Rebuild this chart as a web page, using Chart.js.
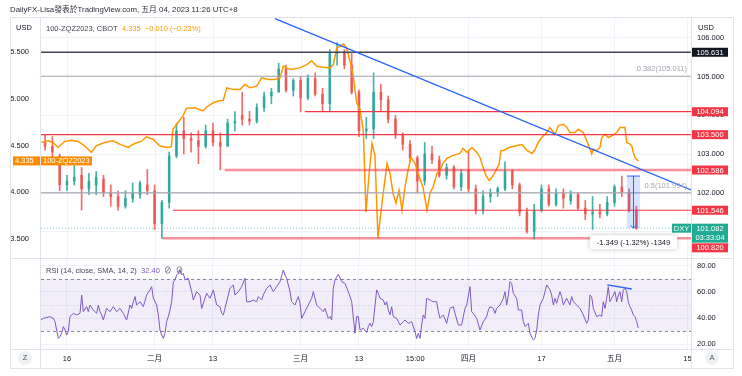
<!DOCTYPE html>
<html><head><meta charset="utf-8">
<script src="https://cdn.jsdelivr.net/npm/chart.js@4.4.0/dist/chart.umd.min.js"></script>
<style>
html,body{margin:0;padding:0;background:#fff;width:742px;height:376px;overflow:hidden;font-family:"Liberation Sans","Noto Sans CJK TC",sans-serif;}
canvas{position:absolute;left:0;}
#main{top:0;}
#rsi{top:259px;}
.t{position:absolute;white-space:nowrap;font-size:7.5px;line-height:9px;color:#131722;z-index:5;}
.ln{position:absolute;background:#e0e3eb;z-index:4;}
.circ{position:absolute;width:14px;height:14px;border-radius:50%;background:#eef0f4;color:#50535e;font-size:7.5px;line-height:14px;text-align:center;z-index:5;}
</style></head><body>
<canvas id="main" width="742" height="259"></canvas>
<canvas id="rsi" width="742" height="117"></canvas>

<div class="ln" style="left:10px;top:17px;width:724px;height:1px"></div>
<div class="ln" style="left:10px;top:17px;width:1px;height:352px"></div>
<div class="ln" style="left:733px;top:17px;width:1px;height:352px"></div>
<div class="ln" style="left:40px;top:17px;width:1px;height:352px"></div>
<div class="ln" style="left:691px;top:17px;width:1px;height:352px"></div>
<div class="ln" style="left:10px;top:258px;width:724px;height:1px"></div>
<div class="ln" style="left:10px;top:349px;width:724px;height:1px"></div>
<div class="ln" style="left:10px;top:368px;width:724px;height:1px"></div>

<div class="t" style="left:10px;top:5px;font-size:7.8px;color:#2a2e39">DailyFX-Lisa發表於TradingView.com, 五月 04, 2023 11:26 UTC+8</div>
<div class="t" style="left:16px;top:23px">USD</div>
<div class="t" style="left:698px;top:23px">USD</div>
<div class="t" style="left:46px;top:24px;color:#434651">100-ZQZ2023, CBOT&nbsp;&nbsp;<span style="color:#ff9800">4.335&nbsp;&nbsp;−0.010 (−0.23%)</span></div>
<div class="t" style="left:46px;top:266px;color:#434651">RSI (14, close, SMA, 14, 2)&nbsp;&nbsp;<span style="color:#7e57c2">32.40</span>&nbsp;&nbsp;⊘&nbsp;&nbsp;⊘</div>
<div class="circ" style="left:18px;top:351px">Z</div>
<div class="circ" style="left:705px;top:351px">A</div>

<script>
// ---------- DATA ----------
// trading-day index (0 = Jan 16 2023)
const candleDays = [-3,-2,-1,0,1,2,3,4,5,6,7,8,9,10,11,12,13,14,15,16,17,18,19,20,21,22,23,24,25,26,27,28,29,30,31,32,33,34,35,36,37,38,39,40,41,42,43,44,45,46,47,48,49,50,51,52,53,54,55,56,57,58,59,60,61,62,63,64,65,66,67,68,69,70,71,72,73,74,75,76,77,78];
const cOpen  = [103.3,103.2,102.95,102.2,102.3,102.45,102.1,102.2,102.35,102.0,101.9,101.65,101.85,101.95,102.2,102.05,101.2,101.75,102.95,103.6,103.4,103.35,103.2,103.6,103.3,103.2,103.8,104.0,103.9,103.85,104.2,104.5,104.6,105.2,104.65,104.9,104.45,104.95,104.55,104.3,105.6,105.65,105.3,104.6,103.6,103.65,104.6,104.4,103.9,103.5,103.25,102.9,102.3,103.0,102.85,102.45,102.65,102.15,102.6,102.1,101.55,101.9,102.0,102.1,102.55,102.2,101.5,101.0,101.55,102.1,101.7,102.0,101.8,101.95,101.6,101.45,101.5,101.45,101.75,102.15,102.0,101.55];
const cHigh  = [103.5,103.45,103.0,102.45,102.7,102.65,102.5,102.55,102.45,102.2,102.05,102.05,102.25,102.3,102.6,102.2,101.8,103.05,103.8,103.95,103.55,103.6,103.75,103.8,103.55,103.9,104.1,104.6,104.1,104.3,104.6,104.7,105.35,105.3,104.95,105.0,105.05,105.1,104.7,105.7,105.88,105.7,105.6,104.65,103.95,105.1,104.8,104.5,104.0,103.55,103.35,102.95,103.3,103.2,102.95,102.75,102.7,102.6,103.1,102.2,102.05,102.1,102.15,102.8,102.6,102.25,101.6,101.7,102.2,102.2,102.1,102.1,102.05,102.0,101.8,101.9,101.7,101.9,102.2,102.43,102.1,101.65];
const cLow   = [103.1,102.9,102.05,102.05,102.2,101.55,101.95,101.95,101.9,101.65,101.55,101.6,101.75,101.85,101.95,101.05,100.82,101.6,102.9,103.0,103.05,102.75,103.15,103.2,102.59,103.2,103.6,103.75,103.75,103.8,104.1,104.3,104.6,104.6,104.5,104.09,104.4,104.5,104.1,104.1,105.3,105.2,104.55,103.45,103.4,103.4,104.1,103.8,103.4,103.1,102.8,102.0,102.2,102.75,102.4,102.35,102.1,102.05,102.0,101.45,101.45,101.75,101.9,102.05,102.1,101.4,100.95,100.8,101.5,101.65,101.65,101.6,101.7,101.55,101.3,101.05,101.35,101.4,101.65,101.9,101.5,101.05];
const cClose = [103.2,103.05,102.2,102.3,102.4,102.1,102.3,102.4,102.0,101.9,101.65,101.85,102.0,102.25,102.05,101.2,101.75,102.95,103.6,103.4,103.35,103.2,103.6,103.3,103.2,103.8,103.85,103.9,103.85,104.2,104.5,104.6,105.2,104.65,104.9,104.45,104.95,104.55,104.3,105.6,105.65,105.3,104.6,103.6,103.65,104.6,104.4,103.9,103.5,103.25,102.9,102.3,103.0,102.85,102.45,102.65,102.15,102.5,102.1,101.55,101.9,102.0,102.1,102.55,102.2,101.5,101.0,101.55,102.1,101.7,102.0,101.85,101.95,101.6,101.45,101.5,101.45,101.75,102.15,102.0,101.55,101.082];

// 100-ZQZ2023 (left axis)
const zqDays = [-3.52,-2.60,-1.92,-1.23,-0.32,0.59,1.51,2.42,3.33,4.01,5.16,6.30,7.22,8.36,9.27,10.18,10.86,11.78,12.70,13.60,14.29,14.52,15.21,15.89,16.34,17.49,18.63,19.14,20.04,20.73,21.41,21.88,22.78,23.70,24.38,25.07,25.99,26.67,27.58,28.49,29.18,29.63,30.55,31.92,32.84,33.52,34.21,35.11,36.03,36.48,36.95,37.40,37.85,38.32,38.77,39.22,39.68,40.14,40.59,40.96,41.37,41.78,42.19,42.60,43.15,43.84,44.25,44.66,45.07,45.48,45.89,46.30,46.71,47.12,47.67,48.08,48.77,49.32,49.73,50.14,50.68,51.10,51.51,52.05,52.88,53.84,54.25,54.79,55.48,56.16,56.58,56.99,57.40,57.81,58.22,58.63,59.18,59.45,59.86,60.55,61.64,62.33,63.01,63.70,64.11,64.56,65.03,65.71,66.16,66.85,67.30,67.99,68.49,68.90,69.59,70.04,70.73,71.19,71.64,71.88,72.10,72.56,73.01,73.25,73.70,74.15,74.62,75.30,75.75,76.44,76.67,77.12,77.36,77.58,77.81,78.26];
const zqVals = [4.532,4.550,4.532,4.479,4.543,4.556,4.543,4.497,4.426,4.497,4.532,4.550,4.514,4.479,4.521,4.543,4.593,4.567,4.497,4.479,4.486,4.673,4.745,4.816,4.897,4.904,4.869,4.912,4.957,4.976,4.982,5.117,5.099,5.099,5.152,5.117,5.135,5.223,5.205,5.205,5.223,5.348,5.312,5.330,5.365,5.407,5.348,5.337,5.330,5.365,5.543,5.561,5.585,5.543,5.401,5.241,4.957,4.886,4.660,3.787,4.181,4.521,4.394,3.511,3.883,4.309,4.202,3.989,3.883,4.021,3.809,4.053,4.234,4.372,4.309,4.202,4.053,3.809,3.989,4.053,4.202,4.234,4.309,4.362,4.394,4.415,4.468,4.426,4.479,4.426,4.372,4.266,4.181,4.128,4.160,4.213,4.298,4.447,4.447,4.479,4.500,4.511,4.447,4.415,4.457,4.532,4.585,4.638,4.691,4.617,4.713,4.727,4.691,4.638,4.638,4.673,4.638,4.550,4.461,4.407,4.461,4.444,4.479,4.585,4.620,4.585,4.603,4.638,4.691,4.691,4.532,4.514,4.497,4.426,4.372,4.335];

// RSI(14)
const rsiDays = [-3.61,-3.24,-2.33,-1.87,-1.64,-1.42,-1.19,-0.96,-0.73,-0.50,-0.27,-0.05,0.18,0.41,0.87,1.32,1.78,2.01,2.24,2.69,2.92,3.15,3.61,4.06,4.29,4.52,4.75,4.98,5.43,5.89,6.35,6.80,7.26,7.72,8.17,8.63,8.86,9.09,9.32,9.54,10.00,10.46,10.91,11.37,11.60,11.83,12.28,12.51,12.74,12.97,13.20,13.42,13.65,13.88,14.11,14.34,14.57,14.79,15.02,15.25,15.48,15.71,15.94,16.16,16.62,17.08,17.31,17.76,18.22,18.45,18.90,19.13,19.59,20.05,20.50,20.96,21.19,21.42,21.64,21.87,22.33,22.78,23.01,23.47,23.93,24.38,24.61,25.07,25.53,25.98,26.21,26.67,26.89,27.35,27.81,28.26,28.72,29.18,29.63,29.86,30.09,30.55,30.78,31.23,31.69,31.92,32.15,32.60,33.06,33.52,33.74,33.97,34.20,34.66,35.11,35.34,35.80,36.03,36.26,36.48,36.71,37.17,37.63,38.08,38.54,39.00,39.45,39.68,39.91,40.14,40.59,41.05,41.28,41.51,41.74,41.96,42.42,42.65,42.88,43.33,43.56,43.79,44.02,44.25,44.47,44.70,45.16,45.62,46.07,46.30,46.76,47.21,47.67,47.90,48.13,48.36,48.58,48.81,49.04,49.27,49.73,50.18,50.64,50.87,51.10,51.55,52.01,52.47,52.92,53.15,53.61,54.06,54.29,54.52,54.75,55.21,55.43,55.66,56.12,56.58,57.03,57.49,57.72,57.95,58.40,58.63,58.86,59.32,59.77,60.00,60.23,60.46,60.68,60.91,61.14,61.60,61.83,62.28,62.51,62.74,62.97,63.20,63.42,63.88,64.11,64.34,64.57,64.79,65.25,65.71,66.16,66.39,66.62,66.85,67.08,67.53,67.76,67.99,68.45,68.90,69.13,69.36,69.82,70.27,70.73,71.19,71.42,71.64,71.87,72.10,72.56,73.01,73.24,73.47,73.70,73.93,74.15,74.38,74.61,75.07,75.30,75.53,75.75,75.98,76.21,76.44,76.67,76.89,77.12,77.35,77.58,77.81,78.04,78.26];
const rsiVals = [38.6,39.8,41.1,39.8,37.3,30.9,24.5,25.8,28.4,33.5,30.9,27.1,29.7,41.1,43.6,42.4,43.6,57.6,44.9,48.7,44.9,50.0,46.2,43.6,50.0,44.9,42.4,38.6,47.4,44.9,48.7,44.9,47.4,43.6,38.6,50.0,47.4,52.5,56.4,50.0,52.5,48.7,57.6,61.5,64.0,55.1,50.0,42.4,30.9,27.1,24.5,28.4,37.3,41.1,46.2,52.5,67.8,69.1,72.9,74.2,76.7,72.9,74.2,69.1,70.4,60.2,53.8,60.2,57.6,47.4,55.1,58.9,55.1,61.5,50.0,48.7,43.6,42.4,47.4,52.5,62.7,65.3,57.6,60.2,64.0,70.4,52.5,52.5,53.8,52.5,56.4,53.8,57.6,62.7,65.3,60.2,64.0,67.8,76.7,72.9,70.4,60.2,52.5,50.0,56.4,51.3,39.8,44.9,50.0,55.1,60.2,55.1,50.0,47.4,44.9,47.4,39.8,41.1,38.6,62.7,69.1,73.4,67.8,66.5,60.2,52.5,28.4,41.1,41.1,30.9,32.2,29.1,33.5,36.0,33.5,37.3,61.5,58.9,55.1,53.8,50.0,52.5,46.2,42.4,48.7,41.1,39.8,34.7,37.3,38.6,36.0,37.3,29.7,24.5,28.4,24.5,34.7,42.4,39.8,55.1,53.8,52.5,52.5,44.9,39.8,42.4,36.0,47.4,48.7,43.6,34.7,34.7,41.1,47.4,50.0,64.0,44.9,43.6,39.8,30.9,37.3,41.1,46.2,48.7,47.4,43.6,47.4,50.0,55.1,60.2,50.0,57.6,67.8,66.5,58.9,55.1,46.2,46.2,37.3,33.5,34.7,36.0,28.4,23.3,24.5,30.9,42.4,50.0,55.1,65.3,61.5,57.6,50.0,55.1,51.3,60.2,56.4,50.0,55.1,50.0,56.4,52.5,50.0,47.4,42.4,36.0,38.6,57.6,56.4,47.4,41.1,42.4,41.1,52.5,47.4,55.1,64.0,52.5,55.1,60.2,52.5,57.6,60.2,52.5,61.5,62.7,60.2,52.5,48.7,46.2,42.4,41.1,37.3,32.4];
const rsiBand = [30, 70];
const rsiMid = 50;

// drawings
const levelPrices = [105.631, 105.011, 104.094, 103.5, 102.586, 101.994, 101.546, 100.82];
const levelStartDays = [-3.56, -3.56, 32.6, -3.56, 21.6, -3.56, 14.5, 13.1];
const fibRatios = ['0.382', '0.5'];
const fibPrices = [105.011, 101.994];
const trendDays = [28.49, 85.48];
const trendPrices = [106.5, 102.07];
const rsiTrendDays = [74.0, 77.36];
const rsiTrendVals = [65.3, 62.2];
const measureDays = [76.7, 78.5];
const measurePrices = [102.43, 101.081];
const lastPrice = 101.082;
const countdown = '03:33:04';

// axes
const xTickDays = [0, 12, 20, 32, 40, 47.7, 55, 65, 75, 85];
const xTickLabels = ['16', '二月', '13', '三月', '13', '15:00', '四月', '17', '五月', '15'];
const dxyTicks = [101, 102, 103, 104, 105, 106];
const zqTicks = [3.5, 4.0, 4.5, 5.0, 5.5];
const rsiTicks = [20, 40, 60, 80];

// ---------- RENDER ----------
const X_MIN = -3.56, X_MAX = 85.48;
const FONT = '"Liberation Sans", "Noto Sans CJK TC", sans-serif';
const UP = 'rgba(38,166,154,0.85)', DOWN = 'rgba(239,83,80,0.85)';
const levelStyle = [
  {c:'#434651', w:1.5}, {c:'#a3a6af', w:1.2}, {c:'#f23645', w:1.2}, {c:'#f23645', w:1.2},
  {c:'rgba(242,54,69,0.55)', w:2.5}, {c:'#a3a6af', w:1.2}, {c:'#f23645', w:1.2}, {c:'rgba(242,54,69,0.55)', w:2.5}
];
const candleCol = cOpen.map((o,i)=> cClose[i] >= o ? UP : DOWN);

const datasets = [];
datasets.push({type:'line', yAxisID:'y', order:0, data: trendDays.map((d,i)=>({x:d,y:trendPrices[i]})), borderColor:'#2962ff', borderWidth:1.3, pointRadius:0});
levelPrices.forEach((p,i)=>{
  datasets.push({type:'line', yAxisID:'y', order:1, data:[{x:levelStartDays[i],y:p},{x:X_MAX,y:p}], borderColor:levelStyle[i].c, borderWidth:levelStyle[i].w, pointRadius:0});
});
datasets.push({type:'line', yAxisID:'y', order:1, data:[{x:X_MIN,y:lastPrice},{x:X_MAX,y:lastPrice}], borderColor:'rgba(38,166,154,0.55)', borderWidth:1, borderDash:[1,2], pointRadius:0});
datasets.push({type:'line', yAxisID:'yz', order:2, data: zqDays.map((d,i)=>({x:d,y:zqVals[i]})), borderColor:'#ff9800', borderWidth:1.5, pointRadius:0, tension:0});
datasets.push({type:'bar', yAxisID:'y', order:3, grouped:false, barThickness:2, data: candleDays.map((d,i)=>({x:d, y:[Math.min(cOpen[i],cClose[i]), Math.max(cOpen[i],cClose[i])]})), backgroundColor:candleCol, borderWidth:0, minBarLength:1});
datasets.push({type:'bar', yAxisID:'y', order:4, grouped:false, barThickness:1, data: candleDays.map((d,i)=>({x:d, y:[cLow[i], cHigh[i]]})), backgroundColor:candleCol, borderWidth:0});

function roundRect(ctx,x,y,w,h,r){ctx.beginPath();ctx.moveTo(x+r,y);ctx.lineTo(x+w-r,y);ctx.quadraticCurveTo(x+w,y,x+w,y+r);ctx.lineTo(x+w,y+h-r);ctx.quadraticCurveTo(x+w,y+h,x+w-r,y+h);ctx.lineTo(x+r,y+h);ctx.quadraticCurveTo(x,y+h,x,y+h-r);ctx.lineTo(x,y+r);ctx.quadraticCurveTo(x,y,x+r,y);ctx.closePath();}

const mainDecor = {
  id:'mainDecor',
  beforeDatasetsDraw(chart){
    const {ctx, chartArea:a, scales:{x}} = chart;
    ctx.save(); ctx.strokeStyle='#f0f3fa'; ctx.lineWidth=1;
    xTickDays.forEach(d=>{const px=Math.round(x.getPixelForValue(d))+0.5; ctx.beginPath(); ctx.moveTo(px,a.top); ctx.lineTo(px,a.bottom); ctx.stroke();});
    ctx.restore();
  },
  afterDatasetsDraw(chart){
    const {ctx, chartArea:a, scales:{x,y}} = chart;
    ctx.save();
    ctx.font = '7.5px '+FONT; ctx.textBaseline='middle'; ctx.textAlign='right'; ctx.fillStyle='#a3a6af';
    fibRatios.forEach((r,i)=> ctx.fillText(r+'('+fibPrices[i].toFixed(3)+')', a.right-4, y.getPixelForValue(fibPrices[i])-7));
    const x0=x.getPixelForValue(measureDays[0]), x1=x.getPixelForValue(measureDays[1]);
    const y0=y.getPixelForValue(measurePrices[0]), y1=y.getPixelForValue(measurePrices[1]);
    ctx.fillStyle='rgba(41,98,255,0.18)'; ctx.fillRect(x0,y0,x1-x0,y1-y0);
    ctx.strokeStyle='#2962ff'; ctx.lineWidth=1;
    const xm=Math.round((x0+x1)/2)+0.5;
    ctx.beginPath(); ctx.moveTo(x0,y0); ctx.lineTo(x1,y0); ctx.moveTo(xm,y0); ctx.lineTo(xm,y1);
    ctx.moveTo(xm-3,y1-3); ctx.lineTo(xm,y1); ctx.lineTo(xm+3,y1-3); ctx.stroke();
    const ch = measurePrices[1]-measurePrices[0];
    const txt = (ch<0?'-':'')+Math.abs(ch).toFixed(3)+' ('+(ch<0?'-':'')+Math.abs(ch/measurePrices[0]*100).toFixed(2)+'%) '+(ch<0?'-':'')+Math.round(Math.abs(ch)*1000);
    const tw = ctx.measureText(txt).width + 14;
    ctx.shadowColor='rgba(0,0,0,0.25)'; ctx.shadowBlur=4;
    ctx.fillStyle='#fff'; roundRect(ctx, xm-tw/2, y1+7, tw, 14, 2); ctx.fill();
    ctx.shadowBlur=0; ctx.fillStyle='#131722'; ctx.textAlign='center';
    ctx.fillText(txt, xm, y1+14.5);
    ctx.restore();
  },
  afterDraw(chart){
    const {ctx, chartArea:a, scales:{y,yz}} = chart;
    ctx.save(); ctx.font='7.5px '+FONT; ctx.textBaseline='middle'; ctx.textAlign='center';
    const tag=(val,col,dy)=>{const py=y.getPixelForValue(val)+(dy||0); ctx.fillStyle=col; ctx.fillRect(a.right+1,py-4.5,36,9); ctx.fillStyle='#fff'; ctx.fillText(val.toFixed(3), a.right+19, py+0.5);};
    tag(levelPrices[0], '#131722');
    tag(levelPrices[2], '#f23645');
    tag(levelPrices[3], '#f23645');
    tag(levelPrices[4], '#f23645');
    tag(levelPrices[6], '#f23645');
    tag(levelPrices[7], '#f23645', 9.5);
    const lp = y.getPixelForValue(lastPrice);
    ctx.fillStyle='#22ab94'; ctx.fillRect(a.right+1, lp-4.5, 36, 19);
    ctx.fillRect(a.right-19, lp-4.5, 19, 9);
    ctx.fillStyle='#fff'; ctx.fillText(lastPrice.toFixed(3), a.right+19, lp+0.5);
    ctx.fillText(countdown, a.right+19, lp+9.5);
    ctx.fillText('DXY', a.right-9.5, lp+0.5);
    const zv = zqVals[zqVals.length-1];
    const zp = yz.getPixelForValue(zv);
    ctx.fillStyle='#fb8c00'; ctx.fillRect(13, zp-4.5, 79, 9);
    ctx.fillStyle='#fff'; ctx.textAlign='left';
    ctx.fillText(zv.toFixed(3), 15, zp+0.5);
    ctx.fillText('100-ZQZ2023', 43, zp+0.5);
    ctx.restore();
  }
};

const DXY_MIN = 100.285, DXY_MAX = 106.543, ZQ_MIN = 3.286, ZQ_MAX = 5.874;
new Chart(document.getElementById('main'), {
  type:'bar',
  data:{datasets},
  options:{
    responsive:false, animation:false, devicePixelRatio:1,
    layout:{padding:{top:17,left:0,right:0,bottom:0}},
    plugins:{legend:{display:false}, tooltip:{enabled:false}},
    scales:{
      x:{type:'linear', min:X_MIN, max:X_MAX, display:false, offset:false},
      yz:{type:'linear', position:'left', min:ZQ_MIN, max:ZQ_MAX,
        afterBuildTicks:s=>{s.ticks=zqTicks.map(v=>({value:v}));},
        afterFit:s=>{s.width=41; s.paddingTop=0; s.paddingBottom=0;},
        ticks:{callback:v=>Number(v).toFixed(3), color:'#131722', font:{family:FONT,size:7.5}, padding:4},
        grid:{display:false}, border:{display:false}},
      y:{type:'linear', position:'right', min:DXY_MIN, max:DXY_MAX,
        afterBuildTicks:s=>{s.ticks=dxyTicks.map(v=>({value:v}));},
        afterFit:s=>{s.width=51; s.paddingTop=0; s.paddingBottom=0;},
        ticks:{callback:v=>Number(v).toFixed(3), color:'#131722', font:{family:FONT,size:7.5}, padding:6},
        grid:{color:'#f0f3fa', drawTicks:false}, border:{display:false}}
    }
  },
  plugins:[mainDecor]
});

const rsiDecor = {
  id:'rsiDecor',
  beforeDatasetsDraw(chart){
    const {ctx, chartArea:a, scales:{y}} = chart;
    const yt=y.getPixelForValue(rsiBand[1]), yb=y.getPixelForValue(rsiBand[0]), ym=y.getPixelForValue(rsiMid);
    ctx.save();
    ctx.fillStyle='rgba(126,87,194,0.1)'; ctx.fillRect(a.left, yt, a.right-a.left, yb-yt);
    ctx.strokeStyle='#8a8d96'; ctx.lineWidth=1; ctx.setLineDash([3,3]);
    [yt,yb].forEach(p=>{ctx.beginPath(); ctx.moveTo(a.left,Math.round(p)+0.5); ctx.lineTo(a.right,Math.round(p)+0.5); ctx.stroke();});
    ctx.strokeStyle='rgba(120,123,134,0.25)'; ctx.setLineDash([1,2]);
    ctx.beginPath(); ctx.moveTo(a.left,Math.round(ym)+0.5); ctx.lineTo(a.right,Math.round(ym)+0.5); ctx.stroke();
    ctx.restore();
  }
};

new Chart(document.getElementById('rsi'), {
  type:'line',
  data:{datasets:[
    {data: rsiTrendDays.map((d,i)=>({x:d,y:rsiTrendVals[i]})), borderColor:'#2962ff', borderWidth:1.3, pointRadius:0, order:0},
    {data: rsiDays.map((d,i)=>({x:d,y:rsiVals[i]})), borderColor:'#7e57c2', borderWidth:1, pointRadius:0, tension:0, order:1}
  ]},
  options:{
    responsive:false, animation:false, devicePixelRatio:1,
    layout:{padding:{top:0,left:41,right:0,bottom:0}},
    plugins:{legend:{display:false}, tooltip:{enabled:false}},
    scales:{
      x:{type:'linear', min:X_MIN, max:X_MAX, offset:false,
        afterBuildTicks:s=>{s.ticks=xTickDays.map(v=>({value:v}));},
        afterFit:s=>{s.height=27; s.paddingLeft=0; s.paddingRight=0;},
        ticks:{callback:(v,i)=>xTickLabels[i], autoSkip:false, maxRotation:0, minRotation:0, color:'#131722', font:{family:FONT,size:7.5}, padding:5},
        grid:{color:'#f0f3fa', drawTicks:false}, border:{display:false}},
      y:{type:'linear', position:'right', min:16.41, max:85.11,
        afterBuildTicks:s=>{s.ticks=rsiTicks.map(v=>({value:v}));},
        afterFit:s=>{s.width=51; s.paddingTop=0; s.paddingBottom=0;},
        ticks:{callback:v=>Number(v).toFixed(2), color:'#131722', font:{family:FONT,size:7.5}, padding:6},
        grid:{color:'#f0f3fa', drawTicks:false}, border:{display:false}}
    }
  },
  plugins:[rsiDecor]
});
</script>
</body></html>
